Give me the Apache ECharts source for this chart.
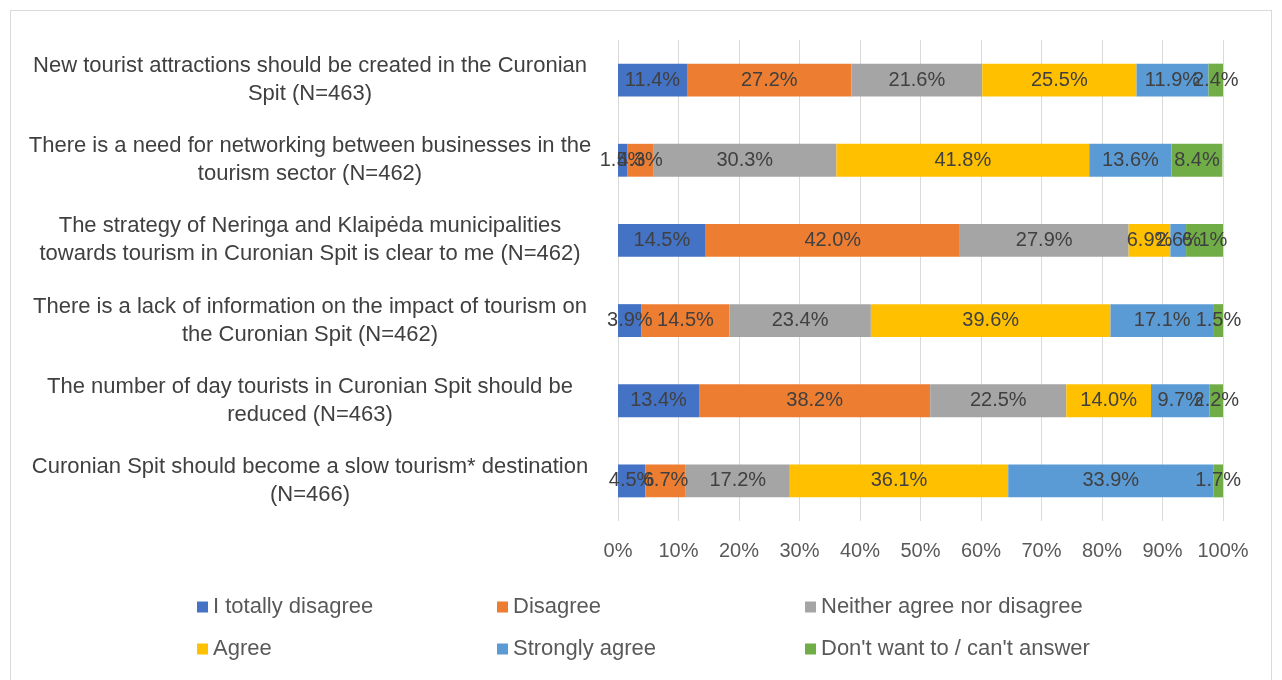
<!DOCTYPE html>
<html>
<head>
<meta charset="utf-8">
<script src="https://cdn.jsdelivr.net/npm/echarts@6/dist/echarts.min.js"></script>
<style>
  html, body { margin: 0; padding: 0; background: #fff; }
  #frame { position: absolute; left: 10px; top: 10px; width: 1262px; height: 672px; border: 1px solid #d9d9d9; box-sizing: border-box; }
  #chart { position: absolute; left: 0; top: 0; width: 1282px; height: 680px; }
</style>
</head>
<body>
<div id="frame"></div>
<div id="chart"></div>
<script>
// Survey statements (top to bottom)
const statements = [
  'New tourist attractions should be created in the Curonian\nSpit (N=463)',
  'There is a need for networking between businesses in the\ntourism sector (N=462)',
  'The strategy of Neringa and Klaipėda municipalities\ntowards tourism in Curonian Spit is clear to me (N=462)',
  'There is a lack of information on the impact of tourism on\nthe Curonian Spit (N=462)',
  'The number of day tourists in Curonian Spit should be\nreduced (N=463)',
  'Curonian Spit should become a slow tourism* destination\n(N=466)'
];

// Share of answers per statement, in percent
const totallyDisagree = [11.4, 1.5, 14.5, 3.9, 13.4, 4.5];
const disagree        = [27.2, 4.3, 42.0, 14.5, 38.2, 6.7];
const neither         = [21.6, 30.3, 27.9, 23.4, 22.5, 17.2];
const agree           = [25.5, 41.8, 6.9, 39.6, 14.0, 36.1];
const stronglyAgree   = [11.9, 13.6, 2.6, 17.1, 9.7, 33.9];
const cantAnswer      = [2.4, 8.4, 6.1, 1.5, 2.2, 1.7];

const answerNames = ['I totally disagree', 'Disagree', 'Neither agree nor disagree',
                     'Agree', 'Strongly agree', "Don't want to / can't answer"];
const answerValues = [totallyDisagree, disagree, neither, agree, stronglyAgree, cantAnswer];
const answerColors = ['#4472C4', '#ED7D31', '#A5A5A5', '#FFC000', '#5B9BD5', '#70AD47'];

const xTicks = [0, 10, 20, 30, 40, 50, 60, 70, 80, 90, 100];

const FONT = 'Liberation Sans';
const TEXT = '#404040';

const chart = echarts.init(document.getElementById('chart'), null, { renderer: 'canvas' });

const series = answerNames.map((name, i) => ({
  name: name,
  type: 'bar',
  stack: 'total',
  barCategoryGap: '59%',
  itemStyle: { color: answerColors[i] },
  label: {
    show: true,
    position: 'inside',
    formatter: p => p.value.toFixed(1) + '%',
    color: TEXT,
    fontFamily: FONT,
    fontSize: 20
  },
  emphasis: { disabled: true },
  data: answerValues[i]
}));

const legendStyle = { fontFamily: FONT, fontSize: 22, color: '#595959' };
function legendColumn(names, left) {
  return {
    data: names,
    orient: 'vertical',
    left: left,
    top: 591,
    itemWidth: 11,
    itemHeight: 11,
    itemGap: 20,
    icon: 'rect',
    textStyle: legendStyle,
    selectedMode: false
  };
}

chart.setOption({
  animation: false,
  grid: { left: 618, right: 59, top: 40, bottom: 159, containLabel: false },
  xAxis: {
    type: 'value',
    min: xTicks[0],
    max: xTicks[xTicks.length - 1],
    interval: 10,
    axisLine: { show: false },
    axisTick: { show: false },
    splitLine: { lineStyle: { color: '#d9d9d9', width: 1 } },
    axisLabel: { formatter: '{value}%', color: '#595959', fontFamily: FONT, fontSize: 20, margin: 20 }
  },
  yAxis: {
    type: 'category',
    inverse: true,
    data: statements,
    axisLine: { show: false },
    axisTick: { show: false },
    axisLabel: {
      color: TEXT,
      fontFamily: FONT,
      fontSize: 22,
      lineHeight: 28,
      align: 'center',
      margin: 308
    }
  },
  legend: [
    legendColumn([answerNames[0], answerNames[3]], 192),
    legendColumn([answerNames[1], answerNames[4]], 492),
    legendColumn([answerNames[2], answerNames[5]], 800)
  ],
  series: series
});
</script>
</body>
</html>
